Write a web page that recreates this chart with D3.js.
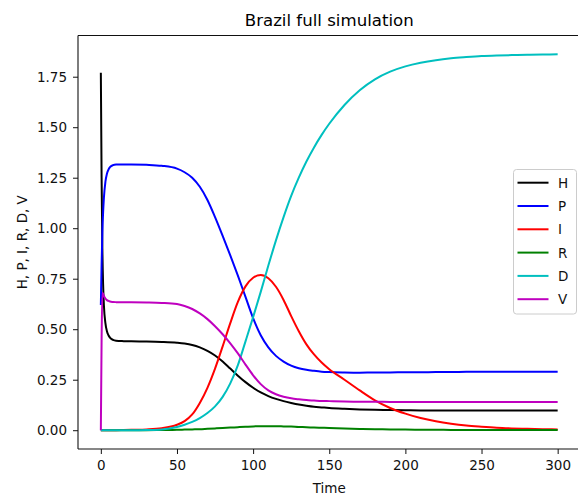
<!DOCTYPE html>
<html>
<head>
<meta charset="utf-8">
<script src="https://cdn.jsdelivr.net/npm/d3@7/dist/d3.min.js"></script>
<style>
  html, body { margin: 0; padding: 0; background: #fff; }
  svg { display: block; font-family: "DejaVu Sans", sans-serif; }
</style>
</head>
<body>
<svg id="chart" width="578" height="498"></svg>
<script>
// ---- data ----
const title = "Brazil full simulation";
const xLabel = "Time";
const yLabel = "H, P, I, R, D, V";
const xTicks = [0, 50, 100, 150, 200, 250, 300];
const yTicks = [0.00, 0.25, 0.50, 0.75, 1.00, 1.25, 1.50, 1.75];
const seriesNames = ["H", "P", "I", "R", "D", "V"];
const seriesColors = ["#000000", "#0000ff", "#ff0000", "#008000", "#00bfbf", "#bf00bf"];

const time = [0, 0.5, 1, 1.5, 2, 3, 4, 5, 6, 8, 10, 15, 20, 30, 40, 50, 55, 60, 65, 70,
  75, 80, 85, 90, 95, 100, 105, 110, 115, 120, 125, 130, 135, 140, 145, 150, 160, 170, 180, 190,
  200, 210, 220, 230, 240, 250, 260, 270, 280, 290, 300];

const H = [1.77, 1.25, 0.9, 0.72, 0.62, 0.53, 0.49, 0.47, 0.458, 0.447, 0.443, 0.441, 0.440, 0.439, 0.437, 0.433, 0.429, 0.422, 0.41, 0.393,
  0.37, 0.34, 0.305, 0.27, 0.238, 0.21, 0.187, 0.169, 0.155, 0.144, 0.135, 0.127, 0.121, 0.116, 0.113, 0.11, 0.106, 0.103, 0.101, 0.100,
  0.099, 0.098, 0.098, 0.097, 0.097, 0.097, 0.097, 0.097, 0.097, 0.097, 0.097];

const P = [0.62, 0.82, 0.98, 1.08, 1.15, 1.23, 1.27, 1.29, 1.302, 1.312, 1.315, 1.316, 1.316, 1.314, 1.309, 1.295, 1.277, 1.25, 1.205, 1.14,
  1.055, 0.962, 0.865, 0.765, 0.66, 0.555, 0.47, 0.41, 0.368, 0.34, 0.32, 0.307, 0.299, 0.294, 0.29, 0.288, 0.286, 0.285, 0.286, 0.286,
  0.287, 0.287, 0.288, 0.288, 0.289, 0.289, 0.289, 0.29, 0.29, 0.29, 0.29];

const I = [0, 0, 0, 0, 0, 0, 0, 0, 0, 0, 0, 0.001, 0.002, 0.004, 0.01, 0.027, 0.045, 0.078, 0.135, 0.21,
  0.305, 0.415, 0.53, 0.635, 0.712, 0.755, 0.768, 0.752, 0.71, 0.645, 0.565, 0.49, 0.425, 0.375, 0.335, 0.302, 0.25, 0.197, 0.148, 0.11,
  0.082, 0.06, 0.044, 0.032, 0.023, 0.017, 0.012, 0.009, 0.007, 0.005, 0.004];

const R = [0, 0, 0, 0, 0, 0, 0, 0, 0, 0, 0, 0, 0, 0, 0.001, 0.002, 0.003, 0.004, 0.005, 0.007,
  0.009, 0.011, 0.013, 0.015, 0.017, 0.019, 0.02, 0.02, 0.02, 0.019, 0.018, 0.016, 0.015, 0.013, 0.012, 0.011, 0.008, 0.006, 0.005, 0.004,
  0.003, 0.0025, 0.002, 0.0016, 0.0013, 0.001, 0.0009, 0.0008, 0.0007, 0.0006, 0.0005];

const D = [0, 0, 0, 0, 0, 0, 0, 0, 0, 0, 0, 0, 0, 0.001, 0.004, 0.016, 0.027, 0.041, 0.06, 0.085,
  0.118, 0.165, 0.232, 0.322, 0.44, 0.56, 0.685, 0.815, 0.94, 1.055, 1.16, 1.25, 1.33, 1.4, 1.462, 1.517, 1.61, 1.683, 1.737, 1.775,
  1.801, 1.819, 1.832, 1.841, 1.847, 1.852, 1.855, 1.857, 1.859, 1.86, 1.861];

const V = [0, 0.45, 0.68, 0.675, 0.665, 0.652, 0.644, 0.64, 0.637, 0.635, 0.634, 0.633, 0.633, 0.632, 0.63, 0.625, 0.615, 0.6, 0.578, 0.55,
  0.515, 0.475, 0.43, 0.38, 0.325, 0.272, 0.228, 0.197, 0.178, 0.166, 0.158, 0.153, 0.149, 0.147, 0.145, 0.144, 0.142, 0.141, 0.141, 0.14,
  0.14, 0.14, 0.14, 0.14, 0.14, 0.14, 0.14, 0.14, 0.14, 0.14, 0.14];

const seriesValues = [H, P, I, R, D, V];

(function () {
  const svg = d3.select("#chart");
  const mL = 78, mR = 580.5, mT = 35.5, mB = 449;
  const fs = "13.5px";

  const x = d3.scaleLinear().domain([-15, 315]).range([mL, mR]);
  const y = d3.scaleLinear().domain([-0.093, 1.954]).range([mB, mT]);

  // title
  svg.append("text")
    .attr("x", (mL + mR) / 2).attr("y", 26)
    .attr("text-anchor", "middle")
    .style("font-size", "16.6px").attr("fill", "#000")
    .text(title);

  // lines
  const line = d3.line().curve(d3.curveMonotoneX);
  const plot = svg.append("g");
  seriesValues.forEach((vals, i) => {
    plot.append("path")
      .datum(time.map((t, k) => [x(t), y(vals[k])]))
      .attr("d", line)
      .attr("fill", "none")
      .attr("stroke", seriesColors[i])
      .attr("stroke-width", 2)
      .attr("stroke-linejoin", "round")
      .attr("stroke-linecap", "butt");
  });

  // axes
  const xAxis = d3.axisBottom(x).tickValues(xTicks).tickFormat(d3.format("d")).tickSize(5).tickPadding(6.5);
  const yAxis = d3.axisLeft(y).tickValues(yTicks).tickFormat(d3.format(".2f")).tickSize(5).tickPadding(6);

  const gx = svg.append("g").attr("transform", `translate(0,${mB})`).call(xAxis);
  const gy = svg.append("g").attr("transform", `translate(${mL},0)`).call(yAxis);
  [gx, gy].forEach(g => {
    g.selectAll("text").style("font-size", fs).style("font-family", "DejaVu Sans, sans-serif").attr("fill", "#111");
    g.selectAll("line").attr("stroke", "#111").attr("stroke-width", 1);
    g.select(".domain").remove();
  });

  // spines
  const spine = (x1, y1, x2, y2) => svg.append("line")
    .attr("x1", x1).attr("y1", y1).attr("x2", x2).attr("y2", y2)
    .attr("stroke", "#111").attr("stroke-width", 1.1);
  spine(mL, mT, mL, mB);
  spine(mL, mB, mR, mB);
  spine(mL, mT, mR, mT);
  spine(mR, mT, mR, mB);

  // axis labels
  svg.append("text")
    .attr("x", (mL + mR) / 2).attr("y", 492.5)
    .attr("text-anchor", "middle")
    .style("font-size", fs).attr("fill", "#111")
    .text(xLabel);
  svg.append("text")
    .attr("transform", `translate(26.5,${(mT + mB) / 2}) rotate(-90)`)
    .attr("text-anchor", "middle")
    .style("font-size", fs).attr("fill", "#111")
    .text(yLabel);

  // legend
  const lg = svg.append("g");
  lg.append("rect")
    .attr("x", 513.5).attr("y", 169.5).attr("width", 63).attr("height", 144.5)
    .attr("rx", 3).attr("ry", 3)
    .attr("fill", "#fff").attr("fill-opacity", 0.8)
    .attr("stroke", "#cccccc").attr("stroke-width", 1);
  seriesNames.forEach((name, i) => {
    const yy = 182.7 + i * 23.3;
    lg.append("line")
      .attr("x1", 517.5).attr("x2", 548.5).attr("y1", yy).attr("y2", yy)
      .attr("stroke", seriesColors[i]).attr("stroke-width", 2);
    lg.append("text")
      .attr("x", 558).attr("y", yy + 5)
      .style("font-size", fs).attr("fill", "#111")
      .text(name);
  });
})();
</script>
</body>
</html>
